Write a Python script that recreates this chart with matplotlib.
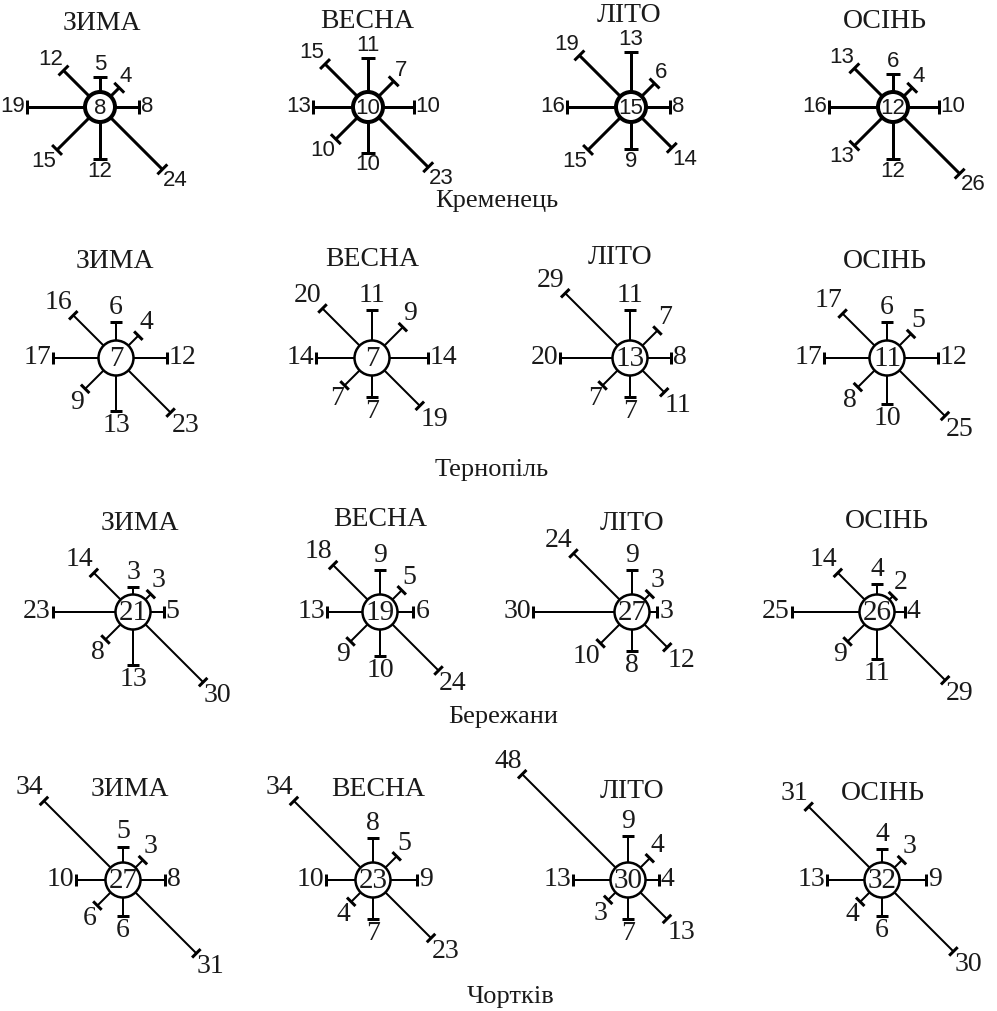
import matplotlib.pyplot as plt
import numpy as np

# Повторюваність вітру за напрямками (%), порядок: Пн, ПнС, С, ПдС, Пд, ПдЗ, З, ПнЗ
seasons = ["ЗИМА", "ВЕСНА", "ЛІТО", "ОСІНЬ"]
stations = ["Кременець", "Тернопіль", "Бережани", "Чортків"]

kremenets_wind = [[5, 4, 8, 24, 12, 15, 19, 12],
                  [11, 7, 10, 23, 10, 10, 13, 15],
                  [13, 6, 8, 14, 9, 15, 16, 19],
                  [6, 4, 10, 26, 12, 13, 16, 13]]
kremenets_calm = [8, 10, 15, 12]

ternopil_wind = [[6, 4, 12, 23, 13, 9, 17, 16],
                 [11, 9, 14, 19, 7, 7, 14, 20],
                 [11, 7, 8, 11, 7, 7, 20, 29],
                 [6, 5, 12, 25, 10, 8, 17, 17]]
ternopil_calm = [7, 7, 13, 11]

berezhany_wind = [[3, 3, 5, 30, 13, 8, 23, 14],
                  [9, 5, 6, 24, 10, 9, 13, 18],
                  [9, 3, 3, 12, 8, 10, 30, 24],
                  [4, 2, 4, 29, 11, 9, 25, 14]]
berezhany_calm = [21, 19, 27, 26]

chortkiv_wind = [[5, 3, 8, 31, 6, 6, 10, 34],
                 [8, 5, 9, 23, 7, 4, 10, 34],
                 [9, 4, 4, 13, 7, 3, 13, 48],
                 [4, 3, 9, 30, 6, 4, 13, 31]]
chortkiv_calm = [27, 23, 30, 32]

all_wind = [kremenets_wind, ternopil_wind, berezhany_wind, chortkiv_wind]
all_calm = [kremenets_calm, ternopil_calm, berezhany_calm, chortkiv_calm]

# Розміщення (в пікселях)
centers_x = [[100, 368, 631, 893], [116, 372, 630, 887],
             [133, 380, 632, 877], [123, 373, 628, 882]]
centers_y = [107, 358, 612, 880]
title_pos = [[(102, 23), (367, 22), (629, 16), (885, 21)],
             [(115, 261), (372, 260), (620, 257), (885, 262)],
             [(140, 523), (380, 520), (632, 524), (887, 522)],
             [(130, 790), (378, 790), (632, 792), (883, 793)]]
station_pos = [(497, 201), (492, 470), (503, 717), (511, 997)]
# масштаб: довжина = a + k * значення
scale_a = [15, 22, 17, 20]
scale_k = [3.05, 2.4, 2.74, 2.7]

PX = 0.72  # pt на піксель при dpi=100
SERIF = ["Liberation Serif", "DejaVu Serif"]
SANS = ["Liberation Sans", "DejaVu Sans"]

fig = plt.figure(figsize=(9.97, 10.11), dpi=100)
ax = fig.add_axes([0, 0, 1, 1])
ax.set_xlim(0, 997)
ax.set_ylim(1011, 0)
ax.axis("off")

angles = np.deg2rad(np.arange(8) * 45)
aligns = [("center", "bottom"), ("left", "bottom"), ("left", "center"), ("left", "top"),
          ("center", "top"), ("right", "top"), ("right", "center"), ("right", "bottom")]


def draw_rose(cx, cy, wind, calm, a, k, sans):
    r = 15 if sans else 17.5
    lw = (3 if sans else 2) * PX
    cap_lw = 3 * PX
    half = 7 if sans else 6
    num_font = SANS if sans else SERIF
    num_size = 16 if sans else 20
    for ang, v, (ha, va) in zip(angles, wind, aligns):
        ux, uy = np.sin(ang), -np.cos(ang)
        L = a + k * v
        ex, ey = cx + ux * L, cy + uy * L
        ax.plot([cx + ux * r, ex], [cy + uy * r, ey], color="black", lw=lw,
                solid_capstyle="butt", zorder=2)
        px, py = -uy, ux
        ax.plot([ex - px * half, ex + px * half], [ey - py * half, ey + py * half],
                color="black", lw=cap_lw, solid_capstyle="butt", zorder=2)
        gap = 2 if ang % (np.pi / 2) == 0 else 1
        ax.text(ex + ux * gap, ey + uy * gap, str(v), ha=ha, va=va,
                fontsize=num_size, family=num_font, color="#1a1a1a")
    circ = plt.Circle((cx, cy), r, facecolor="white", edgecolor="black",
                      lw=(4 if sans else 2.5) * PX, zorder=3)
    ax.add_patch(circ)
    ax.text(cx, cy + 1, str(calm), ha="center", va="center",
            fontsize=16 if sans else 21, family=num_font,
            color="#1a1a1a", zorder=4)


for i in range(4):
    for j in range(4):
        draw_rose(centers_x[i][j], centers_y[i], all_wind[i][j], all_calm[i][j],
                  scale_a[i], scale_k[i], sans=(i == 0))
        tx, ty = title_pos[i][j]
        ax.text(tx, ty, seasons[j], ha="center", va="center", fontsize=20,
                family=SERIF, color="#1a1a1a")
    sx, sy = station_pos[i]
    ax.text(sx, sy, stations[i], ha="center", va="center", fontsize=19,
            family=SERIF, color="#1a1a1a")

fig.savefig("out.png", dpi=100, facecolor="white")
